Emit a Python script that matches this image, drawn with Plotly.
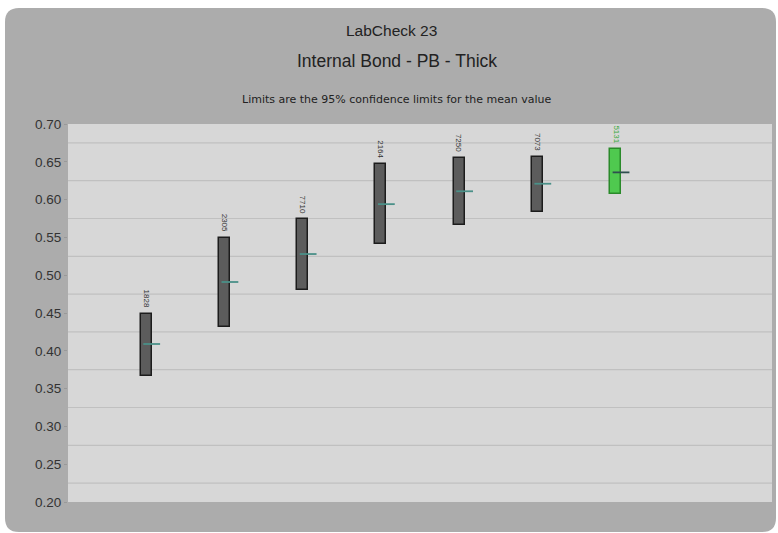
import plotly.graph_objects as go

# Lab results: 95% confidence limits for the mean internal bond (thick PB)
labs = ["1828", "2305", "7710", "2164", "7250", "7073", "5131"]
lower = [0.367, 0.431, 0.480, 0.541, 0.566, 0.584, 0.607]
upper = [0.449, 0.549, 0.574, 0.647, 0.655, 0.656, 0.667]
means = [0.409, 0.491, 0.528, 0.594, 0.611, 0.621, 0.636]
highlight = [False, False, False, False, False, False, True]

y_ticks = [0.20, 0.25, 0.30, 0.35, 0.40, 0.45, 0.50, 0.55, 0.60, 0.65, 0.70]

W, H = 778, 533
ML, MR, MT, MB = 68, 6, 124, 31
PW, PH = W - ML - MR, H - MT - MB


def px(xp):
    return (xp - ML) / PW


def py(yp):
    return 1 - (yp - MT) / PH


xs = list(range(len(labs)))
fills = ["#4fc94f" if h else "#5c5c5c" for h in highlight]
edges = ["#2a8a2a" if h else "#1c1c1c" for h in highlight]

fig = go.Figure()

# confidence interval boxes
fig.add_trace(go.Bar(
    x=xs,
    y=[u - l for u, l in zip(upper, lower)],
    base=lower,
    width=0.14,
    marker=dict(color=fills, line=dict(color=edges, width=1.5)),
    hoverinfo="skip",
    showlegend=False,
))

# mean ticks, drawn to the right of each box centre
fig.add_trace(go.Scatter(
    x=[x + 0.07 for x in xs],
    y=means,
    mode="markers",
    marker=dict(symbol="line-ew", size=12,
                line=dict(color=["#2f4f4f" if h else "#4a9088" for h in highlight], width=1.8)),
    hoverinfo="skip",
    showlegend=False,
))

# lab code labels above each box
for x, u, lab, h in zip(xs, upper, labs, highlight):
    fig.add_annotation(
        x=x, y=u, text=lab, textangle=90, showarrow=False,
        xanchor="center", yanchor="bottom", yshift=4,
        font=dict(size=8, color="#3aa83a" if h else "#333333"),
    )

# minor grid at the midpoints between ticks
mids = [(a + b) / 2 for a, b in zip(y_ticks[:-1], y_ticks[1:])]

shapes = []
# rounded outer panel
x0, x1 = px(5), px(776)
y0, y1 = py(532), py(8)
rx, ry = 14 / PW, 14 / PH
panel = (f"M {x0 + rx} {y1} L {x1 - rx} {y1} Q {x1} {y1} {x1} {y1 - ry} "
         f"L {x1} {y0 + ry} Q {x1} {y0} {x1 - rx} {y0} L {x0 + rx} {y0} "
         f"Q {x0} {y0} {x0} {y0 + ry} L {x0} {y1 - ry} Q {x0} {y1} {x0 + rx} {y1} Z")
shapes.append(dict(type="path", path=panel, xref="paper", yref="paper",
                   fillcolor="#acacac", line=dict(width=0), layer="below"))
shapes.append(dict(type="rect", x0=0, x1=1, y0=0, y1=1, xref="paper", yref="paper",
                   fillcolor="#d7d7d7", line=dict(width=0), layer="below"))
for m in mids:
    shapes.append(dict(type="line", x0=0, x1=1, y0=m, y1=m, xref="paper", yref="y",
                       line=dict(color="#c0c0c0", width=1.2), layer="below"))

fig.update_layout(
    width=W, height=H,
    margin=dict(l=ML, r=MR, t=MT, b=MB),
    paper_bgcolor="white",
    plot_bgcolor="rgba(0,0,0,0)",
    font=dict(family="Liberation Sans, Arial, sans-serif", color="#222222"),
    shapes=shapes,
    bargap=0,
    xaxis=dict(range=[-1, 8], showgrid=False, zeroline=False, showticklabels=False,
               ticks="", showline=False, fixedrange=True),
    yaxis=dict(range=[0.2, 0.7], tickvals=y_ticks,
               ticktext=[f"{v:.2f}" for v in y_ticks],
               showgrid=False, zeroline=False, ticks="outside", ticklen=3,
               tickcolor="#999999", tickfont=dict(size=13.5, color="#333333"),
               showline=False),
)

titles = [("LabCheck 23", 391, 30, 15.5, "Liberation Sans, Arial, sans-serif"),
          ("Internal Bond - PB - Thick", 397, 61, 17.5, "Liberation Sans, Arial, sans-serif"),
          ("Limits are the 95% confidence limits for the mean value", 397, 99, 11,
           "DejaVu Sans, Verdana, sans-serif")]
for text, xpix, ypix, size, fam in titles:
    fig.add_annotation(x=px(xpix), y=py(ypix), xref="paper", yref="paper", text=text,
                       xanchor="center", yanchor="middle",
                       showarrow=False, font=dict(size=size, color="#222222", family=fam))

fig.write_html("out.html")
